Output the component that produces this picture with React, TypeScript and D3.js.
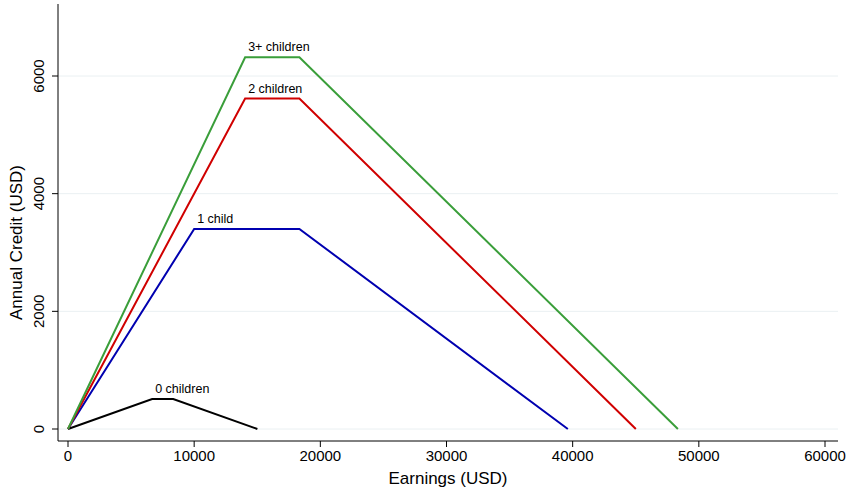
import React from "react";
import * as d3 from "d3";

const xTicks = [0, 10000, 20000, 30000, 40000, 50000, 60000];
const yTicks = [0, 2000, 4000, 6000];
const seriesNames = ["0 children", "1 child", "2 children", "3+ children"];
const seriesColors = ["#000000", "#0000b0", "#d00000", "#3a9e3a"];
const seriesX = [
  [0, 6670, 8340, 15010],
  [0, 10000, 18340, 39617],
  [0, 14040, 18340, 45007],
  [0, 14040, 18340, 48340],
];
const seriesY = [
  [0, 510, 510, 0],
  [0, 3400, 3400, 0],
  [0, 5616, 5616, 0],
  [0, 6318, 6318, 0],
];

export default function App() {
  const W = 852, H = 489;
  const x = d3.scaleLinear().domain([0, 60000]).range([68, 825]);
  const y = d3.scaleLinear().domain([0, 6000]).range([429, 76]);
  const line = d3.line<[number, number]>().x(d => x(d[0])).y(d => y(d[1]));
  const font = "Liberation Sans, Arial, sans-serif";
  return (
    <svg width={W} height={H} style={{ position: "absolute", left: 0, top: 0 }} fontFamily={font}>
      <rect width={W} height={H} fill="#fff" />
      {yTicks.map(t => (
        <line key={t} x1={58} x2={838} y1={y(t)} y2={y(t)} stroke="#eaf0f2" strokeWidth={1} />
      ))}
      <line x1={58} x2={58} y1={4} y2={441} stroke="#000" />
      <line x1={58} x2={838} y1={441} y2={441} stroke="#000" />
      {yTicks.map(t => (
        <g key={t}>
          <line x1={52} x2={58} y1={y(t)} y2={y(t)} stroke="#000" />
          <text transform={`translate(44,${y(t)}) rotate(-90)`} textAnchor="middle" fontSize={15}>{t}</text>
        </g>
      ))}
      {xTicks.map(t => (
        <g key={t}>
          <line x1={x(t)} x2={x(t)} y1={441} y2={447} stroke="#000" />
          <text x={x(t)} y={461} textAnchor="middle" fontSize={15}>{t}</text>
        </g>
      ))}
      <text x={448} y={484} textAnchor="middle" fontSize={17}>Earnings (USD)</text>
      <text transform={`translate(22,${y(3000) - 10}) rotate(-90)`} textAnchor="middle" fontSize={17}>Annual Credit (USD)</text>
      {seriesX.map((xs, i) => {
        const pts = xs.map((v, j) => [v, seriesY[i][j]] as [number, number]);
        return (
          <g key={i}>
            <path d={line(pts) || ""} fill="none" stroke={seriesColors[i]} strokeWidth={2} />
            <text x={x(xs[1]) + 3} y={y(seriesY[i][1]) - 6} fontSize={12.5}>{seriesNames[i]}</text>
          </g>
        );
      })}
    </svg>
  );
}
